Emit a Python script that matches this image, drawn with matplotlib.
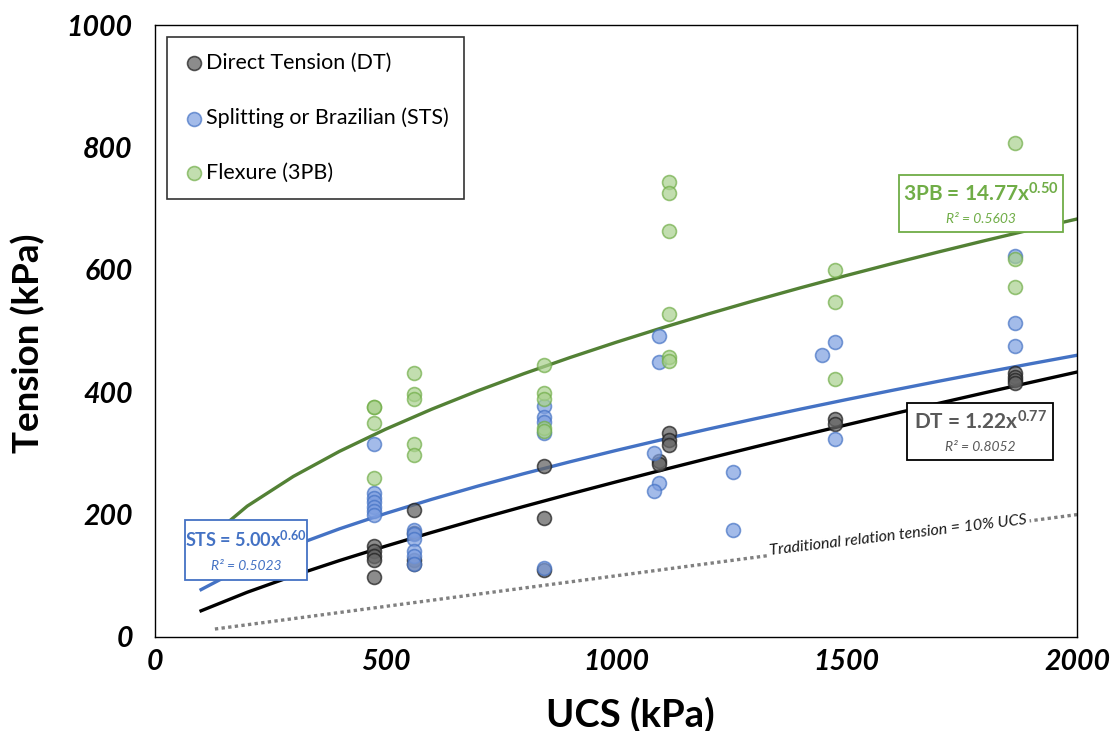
import matplotlib
matplotlib.use("Agg")
import matplotlib.pyplot as plt
import numpy as np
from matplotlib.patches import Rectangle

plt.rcParams['font.family'] = ['Lato', 'DejaVu Sans']
plt.rcParams['mathtext.fontset'] = 'custom'
plt.rcParams['mathtext.rm'] = 'Lato'
plt.rcParams['mathtext.bf'] = 'Lato:bold'
plt.rcParams['mathtext.it'] = 'Lato:italic'

# ---- data ----
dt_x = [474, 474, 474, 474, 474, 561, 561, 561, 561, 843, 843, 843,
        1116, 1116, 1116, 1094, 1094, 1476, 1476, 1866, 1866, 1866, 1866]
dt_y = [148, 140, 133, 125, 98, 207, 170, 125, 120, 279, 195, 110,
        334, 322, 314, 287, 283, 357, 348, 432, 425, 420, 415]

sts_x = [474, 474, 474, 474, 474, 474, 474, 561, 561, 561, 561, 561, 561,
         843, 843, 843, 843, 843, 1094, 1094, 1094, 1082, 1082, 1254, 1254,
         1447, 1476, 1476, 1866, 1866, 1866]
sts_y = [315, 235, 227, 220, 213, 206, 200, 175, 168, 160, 140, 133, 120,
         377, 360, 352, 333, 112, 492, 449, 252, 301, 238, 270, 175,
         460, 482, 323, 622, 513, 476]

pb_x = [474, 474, 474, 474, 561, 561, 561, 561, 561, 843, 843, 843, 843, 843,
        1116, 1116, 1116, 1116, 1116, 1116, 1476, 1476, 1476, 1866, 1866, 1866]
pb_y = [375, 375, 350, 260, 432, 397, 389, 316, 298, 444, 398, 389, 342, 336,
        743, 725, 664, 528, 457, 451, 600, 548, 421, 808, 618, 572]

# power-law trendlines y = a * x^b (unrounded values)
fit_dt = (1.22, 0.7725)
fit_sts = (5.00, 0.595)
fit_pb = (14.77, 0.5044)
trend_range = (100, 2000)
trend_step = 100
trad_ratio = 0.10
trad_range = (130, 2000)

x_ticks = [0, 500, 1000, 1500, 2000]
y_ticks = [0, 200, 400, 600, 800, 1000]

# ---- colours ----
c_dt_face, c_dt_edge, c_dt_line = '#666666', '#222222', '#000000'
c_sts_face, c_sts_edge, c_sts_line = '#7d9ee0', '#4472C4', '#4472C4'
c_pb_face, c_pb_edge, c_pb_line = '#a9d18e', '#70AD47', '#538135'

fig = plt.figure(figsize=(11.11, 7.31), dpi=100)
ax = fig.add_axes([0.1395, 0.1286, 0.8299, 0.8372])

ms = 100
ax.scatter(dt_x, dt_y, s=ms, facecolor=c_dt_face, edgecolor=c_dt_edge,
           alpha=0.75, linewidth=1.2, zorder=3, label='Direct Tension (DT)')
ax.scatter(sts_x, sts_y, s=ms, facecolor=c_sts_face, edgecolor=c_sts_edge,
           alpha=0.7, linewidth=1.2, zorder=3, label='Splitting or Brazilian (STS)')
ax.scatter(pb_x, pb_y, s=ms, facecolor=c_pb_face, edgecolor=c_pb_edge,
           alpha=0.7, linewidth=1.2, zorder=3, label='Flexure (3PB)')

xs = np.arange(trend_range[0], trend_range[1] + 1, trend_step)
ax.plot(xs, fit_pb[0] * xs ** fit_pb[1], color=c_pb_line, lw=2.4, zorder=2)
ax.plot(xs, fit_sts[0] * xs ** fit_sts[1], color=c_sts_line, lw=2.4, zorder=2)
ax.plot(xs, fit_dt[0] * xs ** fit_dt[1], color=c_dt_line, lw=2.4, zorder=2)

xt = np.array(trad_range)
ax.plot(xt, trad_ratio * xt, color='#808080', lw=2.4, linestyle=(0, (1, 1)), zorder=2)
ax.text(0.806, 0.166, 'Traditional relation tension = 10% UCS', transform=ax.transAxes,
        rotation=6.9, ha='center', va='center', fontsize=11.5, style='italic',
        color='#1a1a1a', zorder=4,
        bbox=dict(facecolor='white', edgecolor='none', pad=2))

ax.set_xlim(0, 2000)
ax.set_ylim(0, 1000)
ax.set_xticks(x_ticks)
ax.set_yticks(y_ticks)
ax.tick_params(length=0, labelsize=20.5)
ax.tick_params(axis='y', pad=16)
ax.tick_params(axis='x', pad=9)
for lab in ax.get_xticklabels() + ax.get_yticklabels():
    lab.set_fontweight('bold')
    lab.set_fontstyle('italic')
for sp in ax.spines.values():
    sp.set_color('black')
    sp.set_linewidth(1.0)

ax.set_xlabel('UCS (kPa)', fontsize=27.5, fontweight='bold')
ax.set_ylabel('Tension (kPa)', fontsize=26.5, fontweight='bold')
ax.xaxis.set_label_coords(0.515, -0.127)
ax.yaxis.set_label_coords(-0.1377, 0.48)
ax.xaxis.label.set_va('center')
ax.yaxis.label.set_va('center')

leg = ax.legend(loc='upper left', bbox_to_anchor=(0.013, 0.98), fontsize=15.5,
                frameon=True, fancybox=False, labelspacing=1.62, handletextpad=0.0,
                handlelength=1.1, borderpad=0.72, markerscale=1.0, borderaxespad=0)
leg.get_frame().set_edgecolor('black')
leg.get_frame().set_linewidth(1.2)

def eqbox(x0, y0, x1, y1, col, eq, r2, tcol, fs):
    ax.add_patch(Rectangle((x0, y0), x1 - x0, y1 - y0, transform=ax.transAxes,
                           facecolor='white', edgecolor=col, lw=1.3, zorder=5))
    cx = (x0 + x1) / 2
    ax.text(cx, y0 + (y1 - y0) * 0.67, eq, transform=ax.transAxes, ha='center',
            va='center', fontsize=fs, fontweight='bold', color=tcol, zorder=6)
    ax.text(cx, y0 + (y1 - y0) * 0.23, r2, transform=ax.transAxes, ha='center',
            va='center', fontsize=10, style='italic', color=tcol, zorder=6)

eqbox(0.807, 0.662, 0.985, 0.755, c_pb_edge,
      r'3PB = 14.77x$^{\mathbf{0.50}}$', 'R² = 0.5603', c_pb_edge, 15)
eqbox(0.816, 0.289, 0.974, 0.382, 'black',
      r'DT = 1.22x$^{\mathbf{0.77}}$', 'R² = 0.8052', '#595959', 15)
eqbox(0.033, 0.093, 0.165, 0.191, c_sts_edge,
      r'STS = 5.00x$^{\mathbf{0.60}}$', 'R² = 0.5023', c_sts_edge, 13)

fig.savefig('out.png', dpi=100)
